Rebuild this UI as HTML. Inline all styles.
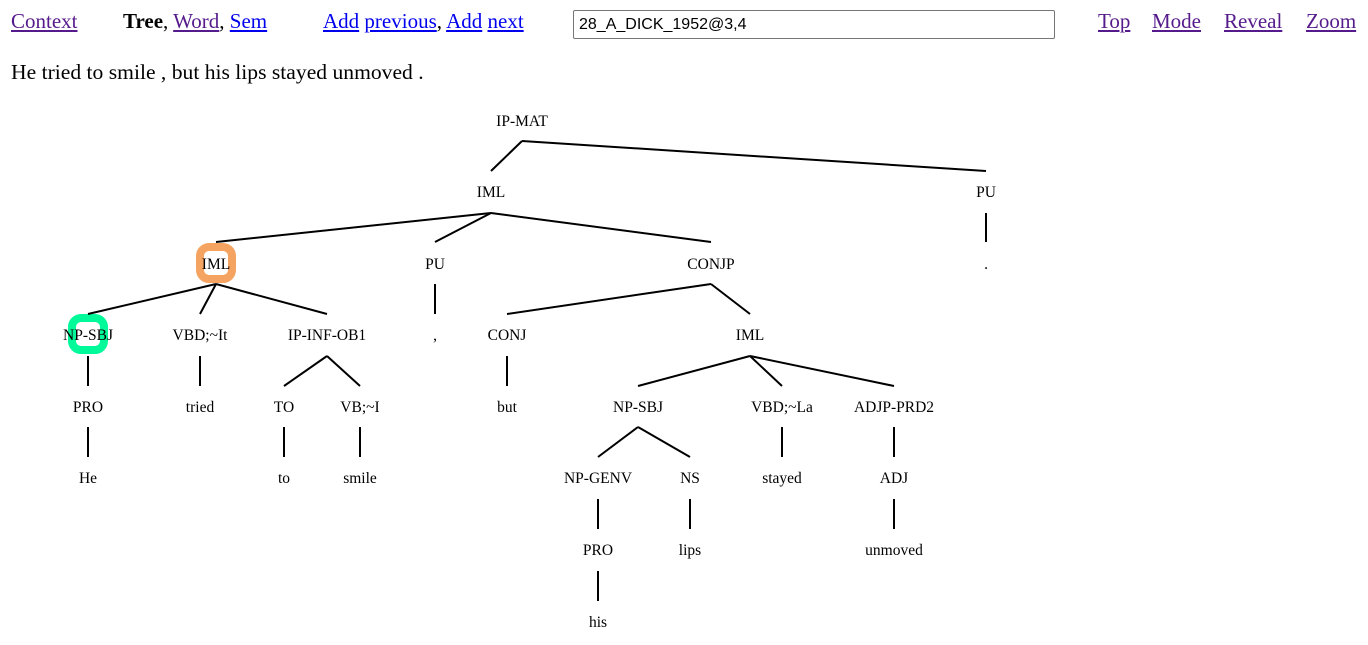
<!DOCTYPE html>
<html><head><meta charset="utf-8"><style>
body{margin:0;background:#fff;width:1368px;height:645px;overflow:hidden;font-family:"Liberation Serif",serif;}
.t{position:absolute;font-size:21px;top:9px;white-space:nowrap;}
a{color:#00e;text-decoration:underline;}
a.v{color:#551a8b;}
.box{position:absolute;left:573px;top:10px;width:482px;height:29px;border:1px solid #767676;border-radius:2px;font-family:"Liberation Sans",sans-serif;font-size:16px;line-height:27px;padding-left:5px;box-sizing:border-box;}
.s{position:absolute;left:11px;top:60px;font-size:21.6px;}
svg{position:absolute;left:0;top:0;}
svg text{font-family:"Liberation Serif",serif;font-size:15.5px;text-anchor:middle;}
</style></head><body>
<div class="t" style="left:11px"><a class="v">Context</a></div>
<div class="t" style="left:123px"><b>Tree</b>, <a class="v">Word</a>, <a>Sem</a></div>
<div class="t" style="left:323px"><a>Add</a> <a>previous</a>, <a>Add</a> <a>next</a></div>
<div class="box">28_A_DICK_1952@3,4</div>
<div class="t" style="left:1098px"><a class="v">Top</a></div>
<div class="t" style="left:1152px"><a class="v">Mode</a></div>
<div class="t" style="left:1224px"><a class="v">Reveal</a></div>
<div class="t" style="left:1306px"><a class="v">Zoom</a></div>
<div class="s">He tried to smile , but his lips stayed unmoved .</div>
<svg width="1368" height="645">
<rect x="200" y="247" width="32" height="32" rx="9" fill="none" stroke="#f4a460" stroke-width="8"/>
<rect x="72" y="318" width="32" height="32" rx="9" fill="none" stroke="#00fa9a" stroke-width="8"/>
<g stroke="#000" stroke-width="2">
<line x1="522" y1="141" x2="491" y2="171"/><line x1="522" y1="141" x2="986" y2="171"/>
<line x1="491" y1="213" x2="216" y2="242"/><line x1="491" y1="213" x2="435" y2="242"/><line x1="491" y1="213" x2="711" y2="242"/>
<line x1="986" y1="213" x2="986" y2="242"/>
<line x1="216" y1="284" x2="88" y2="314"/><line x1="216" y1="284" x2="200" y2="314"/><line x1="216" y1="284" x2="327" y2="314"/>
<line x1="435" y1="284" x2="435" y2="314"/>
<line x1="711" y1="284" x2="507" y2="314"/><line x1="711" y1="284" x2="750" y2="314"/>
<line x1="88" y1="356" x2="88" y2="386"/><line x1="200" y1="356" x2="200" y2="386"/>
<line x1="327" y1="356" x2="284" y2="386"/><line x1="327" y1="356" x2="360" y2="386"/>
<line x1="507" y1="356" x2="507" y2="386"/>
<line x1="750" y1="356" x2="638" y2="386"/><line x1="750" y1="356" x2="782" y2="386"/><line x1="750" y1="356" x2="894" y2="386"/>
<line x1="88" y1="427" x2="88" y2="457"/><line x1="284" y1="427" x2="284" y2="457"/><line x1="360" y1="427" x2="360" y2="457"/>
<line x1="638" y1="427" x2="598" y2="457"/><line x1="638" y1="427" x2="690" y2="457"/>
<line x1="782" y1="427" x2="782" y2="457"/><line x1="894" y1="427" x2="894" y2="457"/>
<line x1="598" y1="499" x2="598" y2="529"/><line x1="690" y1="499" x2="690" y2="529"/><line x1="894" y1="499" x2="894" y2="529"/>
<line x1="598" y1="571" x2="598" y2="601"/>
</g>
<g>
<text x="522" y="126">IP-MAT</text>
<text x="491" y="197">IML</text><text x="986" y="197">PU</text>
<text x="216" y="269">IML</text><text x="435" y="269">PU</text><text x="711" y="269">CONJP</text><text x="986" y="269">.</text>
<text x="88" y="340">NP-SBJ</text><text x="200" y="340">VBD;~It</text><text x="327" y="340">IP-INF-OB1</text><text x="435" y="340">,</text><text x="507" y="340">CONJ</text><text x="750" y="340">IML</text>
<text x="88" y="412">PRO</text><text x="200" y="412">tried</text><text x="284" y="412">TO</text><text x="360" y="412">VB;~I</text><text x="507" y="412">but</text><text x="638" y="412">NP-SBJ</text><text x="782" y="412">VBD;~La</text><text x="894" y="412">ADJP-PRD2</text>
<text x="88" y="483">He</text><text x="284" y="483">to</text><text x="360" y="483">smile</text><text x="598" y="483">NP-GENV</text><text x="690" y="483">NS</text><text x="782" y="483">stayed</text><text x="894" y="483">ADJ</text>
<text x="598" y="555">PRO</text><text x="690" y="555">lips</text><text x="894" y="555">unmoved</text>
<text x="598" y="627">his</text>
</g>
</svg>
</body></html>
